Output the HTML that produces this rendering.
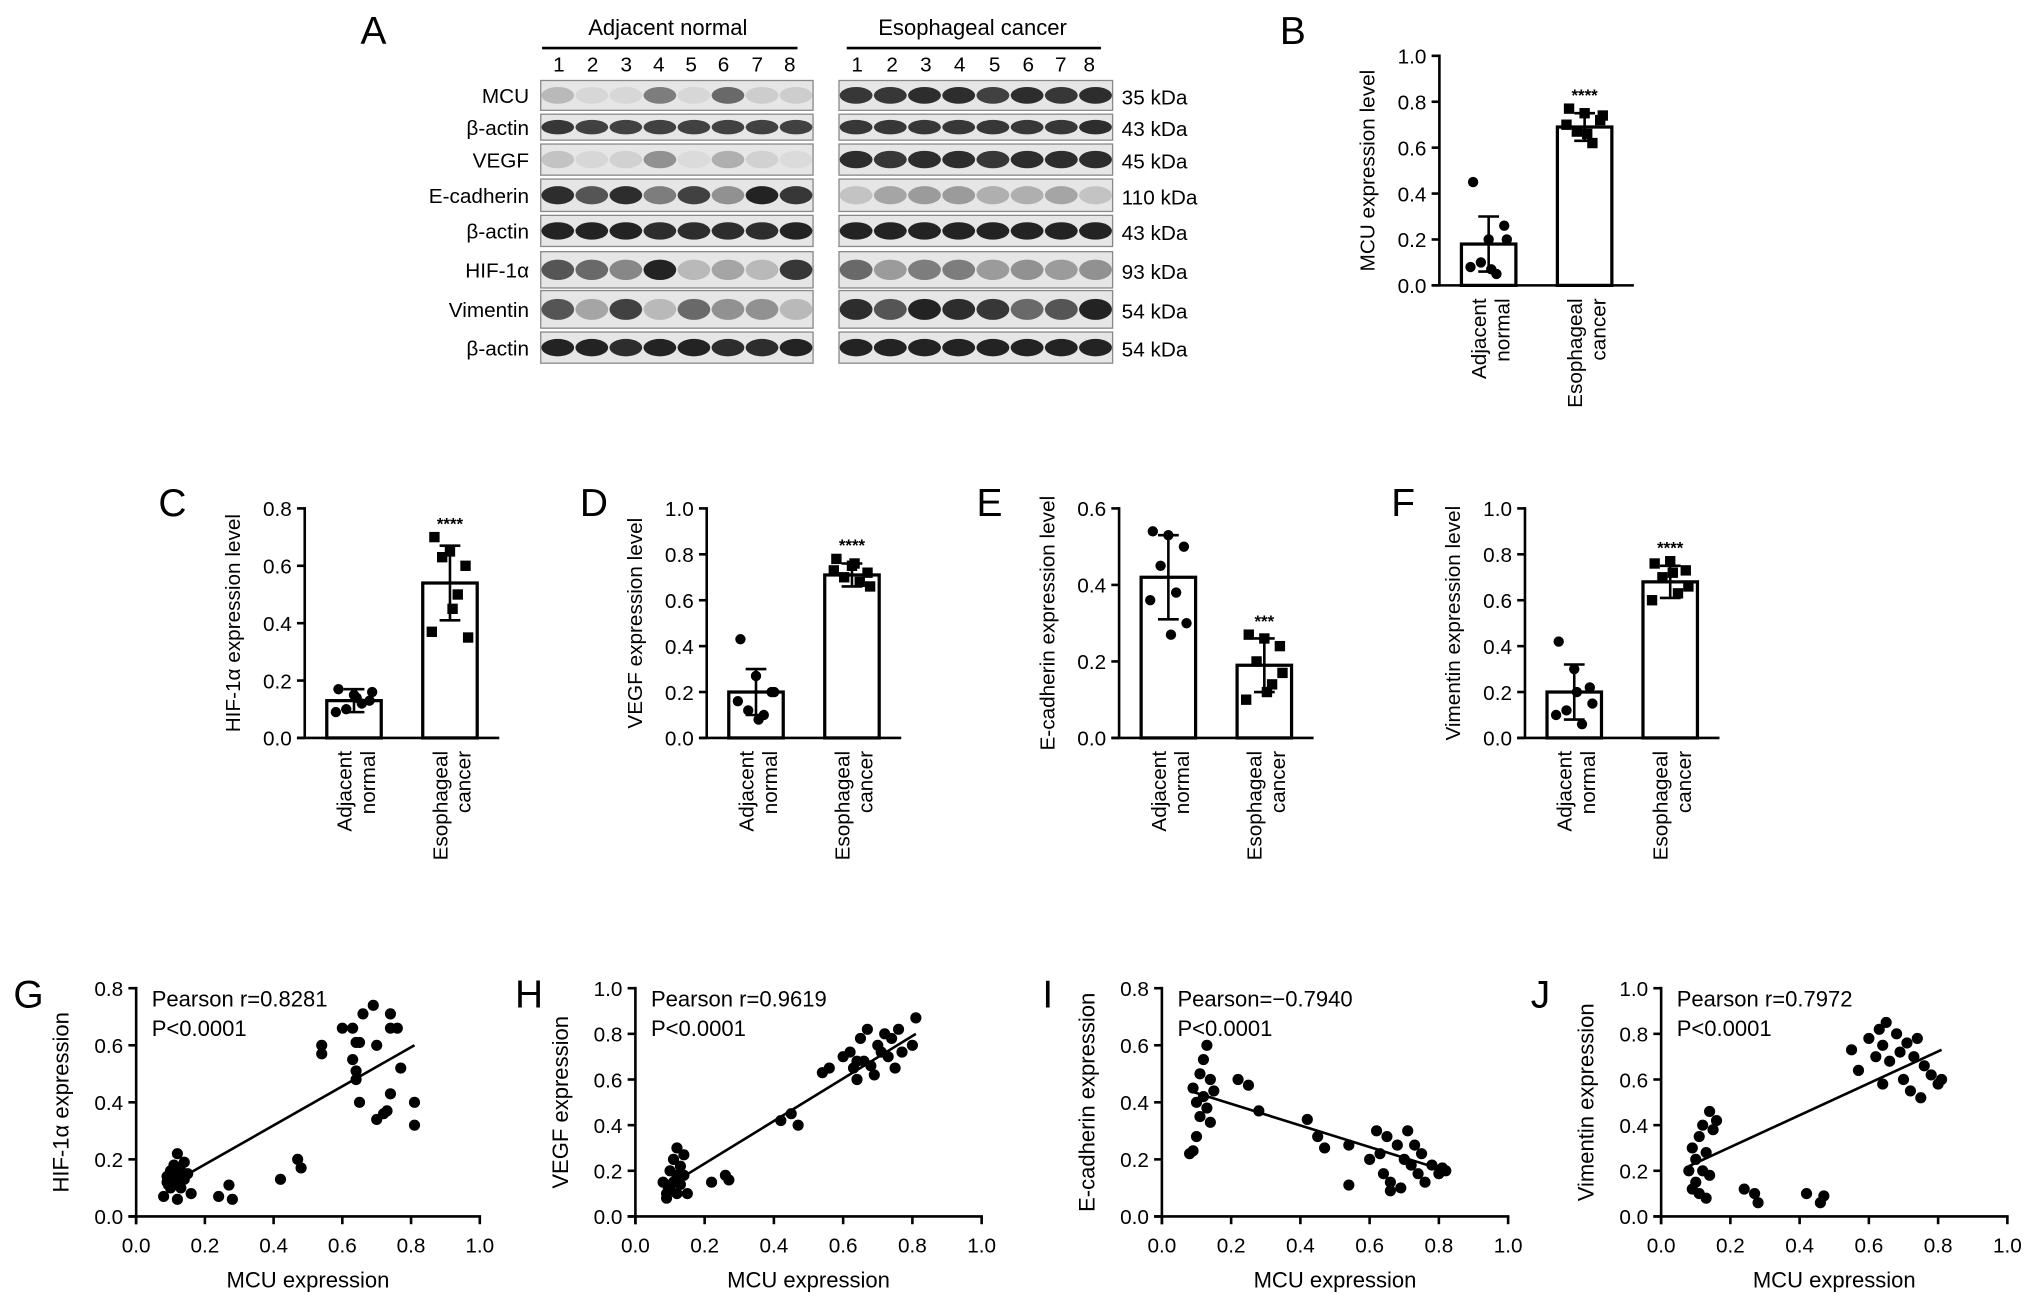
<!DOCTYPE html>
<html><head><meta charset="utf-8"><style>
html,body{margin:0;padding:0;background:#fff;}
svg{display:block;font-family:"Liberation Sans",sans-serif;}
</style></head><body>
<svg id="fig" width="2032" height="1306" viewBox="0 0 1567 1007" xmlns="http://www.w3.org/2000/svg"></svg>
<script>
// ---- Bar chart data ----
const barCats = ["Adjacent normal","Esophageal cancer"];
const mcuMeans = [0.18, 0.69];
const mcuSd = [0.12, 0.06];
const mcuAdjPts = [0.45,0.20,0.26,0.10,0.05,0.08,0.20,0.07];
const mcuEsoPts = [0.77,0.75,0.72,0.67,0.62,0.70,0.74,0.66];
const hifMeans = [0.13, 0.54];
const hifSd = [0.04, 0.13];
const hifAdjPts = [0.17,0.15,0.13,0.10,0.12,0.09,0.16,0.14];
const hifEsoPts = [0.70,0.65,0.60,0.63,0.50,0.37,0.35,0.45];
const vegfMeans = [0.20, 0.71];
const vegfSd = [0.10, 0.05];
const vegfAdjPts = [0.43,0.27,0.20,0.12,0.10,0.16,0.20,0.08];
const vegfEsoPts = [0.78,0.75,0.72,0.70,0.68,0.73,0.66,0.76];
const ecadMeans = [0.42, 0.19];
const ecadSd = [0.11, 0.07];
const ecadAdjPts = [0.54,0.53,0.50,0.45,0.38,0.36,0.30,0.27];
const ecadEsoPts = [0.27,0.26,0.24,0.20,0.14,0.10,0.17,0.12];
const vimMeans = [0.20, 0.68];
const vimSd = [0.12, 0.07];
const vimAdjPts = [0.42,0.30,0.22,0.12,0.06,0.10,0.15,0.20];
const vimEsoPts = [0.76,0.77,0.73,0.70,0.63,0.60,0.66,0.72];
const ticks08 = [0,0.2,0.4,0.6,0.8];
const ticks10 = [0,0.2,0.4,0.6,0.8,1.0];
const ticks06 = [0,0.2,0.4,0.6];
// ---- Scatter data ----
const gX = [0.08,0.09,0.10,0.10,0.11,0.11,0.12,0.12,0.13,0.13,0.14,0.14,0.15,0.16,0.09,0.12,0.24,0.27,0.28,0.42,0.47,0.48,0.54,0.54,0.60,0.63,0.63,0.64,0.65,0.64,0.64,0.65,0.66,0.69,0.70,0.70,0.72,0.73,0.74,0.74,0.74,0.76,0.77,0.81,0.81];
const gY = [0.07,0.12,0.16,0.10,0.14,0.18,0.22,0.12,0.16,0.10,0.19,0.13,0.15,0.08,0.14,0.06,0.07,0.11,0.06,0.13,0.20,0.17,0.57,0.60,0.66,0.66,0.55,0.61,0.61,0.51,0.48,0.40,0.71,0.74,0.60,0.34,0.36,0.37,0.43,0.71,0.66,0.66,0.52,0.40,0.32];
const hX = [0.08,0.09,0.10,0.10,0.11,0.11,0.12,0.12,0.13,0.13,0.14,0.14,0.15,0.09,0.12,0.22,0.26,0.27,0.42,0.45,0.47,0.54,0.56,0.60,0.62,0.63,0.64,0.65,0.66,0.67,0.68,0.70,0.71,0.72,0.73,0.74,0.75,0.76,0.77,0.80,0.81,0.64,0.69];
const hY = [0.15,0.10,0.20,0.12,0.25,0.15,0.30,0.10,0.22,0.14,0.27,0.18,0.10,0.08,0.18,0.15,0.18,0.16,0.42,0.45,0.40,0.63,0.65,0.70,0.72,0.65,0.60,0.78,0.68,0.82,0.66,0.75,0.72,0.80,0.70,0.78,0.65,0.82,0.72,0.75,0.87,0.68,0.62];
const iX = [0.08,0.09,0.10,0.10,0.11,0.11,0.12,0.12,0.13,0.13,0.14,0.14,0.15,0.09,0.22,0.25,0.28,0.42,0.45,0.47,0.54,0.54,0.60,0.62,0.63,0.64,0.65,0.66,0.68,0.69,0.70,0.71,0.72,0.74,0.75,0.76,0.78,0.80,0.81,0.82,0.66,0.73];
const iY = [0.22,0.45,0.40,0.28,0.50,0.35,0.55,0.42,0.60,0.38,0.48,0.33,0.44,0.23,0.48,0.46,0.37,0.34,0.28,0.24,0.11,0.25,0.20,0.30,0.22,0.15,0.28,0.12,0.25,0.10,0.20,0.30,0.18,0.15,0.22,0.12,0.18,0.15,0.17,0.16,0.09,0.25];
const jX = [0.08,0.09,0.10,0.10,0.11,0.11,0.12,0.12,0.13,0.13,0.14,0.14,0.15,0.16,0.09,0.24,0.27,0.28,0.42,0.46,0.47,0.55,0.57,0.60,0.62,0.63,0.64,0.65,0.66,0.68,0.69,0.70,0.71,0.72,0.73,0.74,0.75,0.76,0.78,0.80,0.81,0.64];
const jY = [0.20,0.30,0.15,0.25,0.35,0.10,0.40,0.20,0.28,0.08,0.46,0.18,0.38,0.42,0.12,0.12,0.10,0.06,0.10,0.06,0.09,0.73,0.64,0.78,0.70,0.82,0.75,0.85,0.68,0.80,0.72,0.60,0.76,0.55,0.70,0.78,0.52,0.66,0.62,0.58,0.60,0.58];
const lineG = [0.08,0.10,0.81,0.60];
const lineH = [0.08,0.12,0.81,0.80];
const lineI = [0.08,0.44,0.82,0.16];
const lineJ = [0.08,0.22,0.81,0.73];
// ---- Blot data (band intensities, 0..1) ----
const blotRows = ["MCU","β-actin","VEGF","E-cadherin","β-actin","HIF-1α","Vimentin","β-actin"];
const blotKda = ["35 kDa","43 kDa","45 kDa","110 kDa","43 kDa","93 kDa","54 kDa","54 kDa"];
const adjIntensity = [[0.2,0.05,0.05,0.5,0.05,0.6,0.1,0.1],[0.85,0.8,0.8,0.8,0.8,0.8,0.8,0.8],[0.15,0.05,0.08,0.4,0.03,0.25,0.08,0.03],[0.9,0.7,0.9,0.5,0.8,0.4,0.95,0.85],[0.95,0.95,0.95,0.9,0.9,0.9,0.9,0.95],[0.7,0.6,0.45,0.95,0.2,0.3,0.2,0.85],[0.7,0.3,0.8,0.2,0.6,0.4,0.4,0.2],[0.95,0.95,0.9,0.95,0.95,0.9,0.9,0.95]];
const esoIntensity = [[0.85,0.85,0.9,0.9,0.8,0.9,0.85,0.9],[0.85,0.85,0.85,0.85,0.85,0.85,0.85,0.9],[0.9,0.85,0.9,0.9,0.85,0.9,0.9,0.9],[0.15,0.3,0.35,0.35,0.25,0.25,0.3,0.15],[0.95,0.95,0.95,0.95,0.95,0.95,0.95,0.95],[0.6,0.35,0.5,0.5,0.35,0.4,0.35,0.4],[0.9,0.7,0.95,0.9,0.85,0.6,0.7,0.95],[0.95,0.95,0.95,0.95,0.95,0.95,0.95,0.95]];

const NS="http://www.w3.org/2000/svg";
const svg=document.getElementById('fig');
function el(tag,attrs,parent){const e=document.createElementNS(NS,tag);for(const k in attrs)e.setAttribute(k,attrs[k]);(parent||svg).appendChild(e);return e;}
function txt(s,attrs,parent){const e=el('text',attrs,parent);e.textContent=s;return e;}
function grp(name,parent){const g=el('g',{},parent);return g;}

// ---- Panel A: western blot ----
(function(){
  const g=grp('western-blot-panel');
  const L=txt('A',{x:288,y:34,'font-size':30,'text-anchor':'middle'},g);
  
  
  const hdr=[["Adjacent normal",515,418,615],["Esophageal cancer",750,653,849]];
  hdr.forEach(h=>{
    const t=txt(h[0],{x:h[1],y:27,'font-size':17,'text-anchor':'middle'},g);
    
    
    el('line',{x1:h[2],x2:h[3],y1:37,y2:37,stroke:'#000','stroke-width':2},g);
  });
  const rowsY=[[62,85],[88,108],[111,135],[138,163],[166,190],[194,222],[224,253],[256,280]];
  const panels=[[417,627,adjIntensity,[431,457,483,508,533,558,584,609]],[647,858,esoIntensity,[661,688,714,740,767,793,818,840]]];
  panels.forEach(p=>{
    p[3].forEach((x,i)=>{const n=txt(String(i+1),{x:x,y:55,'font-size':16,'text-anchor':'middle'},g);
      
      });
    rowsY.forEach((r,ri)=>{
      el('rect',{x:p[0],y:r[0],width:p[1]-p[0],height:r[1]-r[0],fill:'#e6e6e6',stroke:'#888','stroke-width':1},g);
      const w=(p[1]-p[0])/8;
      p[2][ri].forEach((v,li)=>{
        const c=Math.round(225-200*v);
        const b=el('ellipse',{cx:p[0]+w*(li+0.5),cy:(r[0]+r[1])/2,rx:w*0.48,ry:(r[1]-r[0])*0.28,fill:`rgb(${c},${c},${c})`},g);
        
        
      });
    });
  });
  rowsY.forEach((r,ri)=>{
    const t=txt(blotRows[ri],{x:408,y:(r[0]+r[1])/2+6,'font-size':16,'text-anchor':'end'},g);
    
    
    const k=txt(blotKda[ri],{x:865,y:(r[0]+r[1])/2+7,'font-size':16},g);
    
    
  });
})();

// ---- Bar charts ----
function barChart(o){
  const g=grp(o.name);
  const sy=v=>o.y0-(v/o.max)*(o.y0-o.ytop);
  const L=txt(o.letter,{x:o.lx,y:o.ly,'font-size':30,'text-anchor':'middle'},g);
  
  
  el('line',{x1:o.ax,x2:o.ax,y1:o.ytop-1,y2:o.y0,stroke:'#000','stroke-width':2},g);
  el('line',{x1:o.ax-6,x2:o.ax+150,y1:o.y0,y2:o.y0,stroke:'#000','stroke-width':2},g);
  o.ticks.forEach(t=>{
    el('line',{x1:o.ax-6,x2:o.ax,y1:sy(t),y2:sy(t),stroke:'#000','stroke-width':2},g);
    const tl=txt(t.toFixed(1),{x:o.ax-10,y:sy(t)+6,'font-size':16,'text-anchor':'end'},g);
    
    
  });
  const yt=txt(o.title,{x:0,y:0,'font-size':16,'text-anchor':'middle',transform:`translate(${o.ax-50},${(o.y0+o.ytop)/2}) rotate(-90)`},g);
  
  
  const centers=[o.ax+38,o.ax+112];
  const offs=[-12,0,12,-6,6,-14,14,2];
  [o.adj,o.eso].forEach((pts,i)=>{
    const cx=centers[i];
    el('line',{x1:cx,x2:cx,y1:o.y0,y2:o.y0,stroke:'#000'},g);
    const bar=el('rect',{x:cx-21,y:sy(o.means[i]),width:42,height:o.y0-sy(o.means[i]),fill:'#fff',stroke:'#000','stroke-width':2.5},g);
    
    
    const hi=sy(o.means[i]+o.sd[i]),lo=sy(Math.max(0,o.means[i]-o.sd[i]));
    el('line',{x1:cx,x2:cx,y1:hi,y2:lo,stroke:'#000','stroke-width':2},g);
    el('line',{x1:cx-8,x2:cx+8,y1:hi,y2:hi,stroke:'#000','stroke-width':2},g);
    el('line',{x1:cx-8,x2:cx+8,y1:lo,y2:lo,stroke:'#000','stroke-width':2},g);
    pts.forEach((v,k)=>{
      const m = i===0 ? el('circle',{cx:cx+offs[k],cy:sy(v),r:4,fill:'#000'},g)
                      : el('rect',{x:cx+offs[k]-4,y:sy(v)-4,width:8,height:8,fill:'#000'},g);
      
      
    });
    const words=barCats[i].split(' ');
    const l1=txt(words[0],{x:0,y:0,'font-size':16,'text-anchor':'end',transform:`translate(${cx-2},${o.y0+10}) rotate(-90)`},g);
    
    
    const l2=txt(words[1],{x:0,y:0,'font-size':16,'text-anchor':'end',transform:`translate(${cx+16},${o.y0+10}) rotate(-90)`},g);
    
    
  });
  const st=txt(o.stars,{x:centers[1],y:sy(Math.max(...o.eso))-6,'font-size':13,'text-anchor':'middle','font-weight':'bold'},g);
  
  
}
barChart({name:'mcu-bar-chart',letter:'B',lx:997,ly:34,ax:1110,y0:220,ytop:43,max:1.0,ticks:ticks10,title:'MCU expression level',means:mcuMeans,sd:mcuSd,adj:mcuAdjPts,eso:mcuEsoPts,stars:'****'});
barChart({name:'hif-bar-chart',letter:'C',lx:133,ly:398,ax:235,y0:569,ytop:392,max:0.8,ticks:ticks08,title:'HIF-1α expression level',means:hifMeans,sd:hifSd,adj:hifAdjPts,eso:hifEsoPts,stars:'****'});
barChart({name:'vegf-bar-chart',letter:'D',lx:458,ly:398,ax:545,y0:569,ytop:392,max:1.0,ticks:ticks10,title:'VEGF expression level',means:vegfMeans,sd:vegfSd,adj:vegfAdjPts,eso:vegfEsoPts,stars:'****'});
barChart({name:'ecadherin-bar-chart',letter:'E',lx:763,ly:398,ax:863,y0:569,ytop:392,max:0.6,ticks:ticks06,title:'E-cadherin expression level',means:ecadMeans,sd:ecadSd,adj:ecadAdjPts,eso:ecadEsoPts,stars:'***'});
barChart({name:'vimentin-bar-chart',letter:'F',lx:1082,ly:398,ax:1176,y0:569,ytop:392,max:1.0,ticks:ticks10,title:'Vimentin expression level',means:vimMeans,sd:vimSd,adj:vimAdjPts,eso:vimEsoPts,stars:'****'});

// ---- Scatter plots ----
function scatter(o){
  const g=grp(o.name);
  const sx=v=>o.x0+v*(o.x1-o.x0);
  const sy=v=>o.y0-(v/o.ymax)*(o.y0-o.ytop);
  const L=txt(o.letter,{x:o.lx,y:777,'font-size':30,'text-anchor':'middle'},g);
  
  
  el('line',{x1:o.x0,x2:o.x0,y1:o.ytop-1,y2:o.y0+6,stroke:'#000','stroke-width':2},g);
  el('line',{x1:o.x0-6,x2:o.x1+1,y1:o.y0,y2:o.y0,stroke:'#000','stroke-width':2},g);
  o.yticks.forEach(t=>{
    el('line',{x1:o.x0-6,x2:o.x0,y1:sy(t),y2:sy(t),stroke:'#000','stroke-width':2},g);
    const tl=txt(t.toFixed(1),{x:o.x0-10,y:sy(t)+6,'font-size':16,'text-anchor':'end'},g);
    
    
  });
  ticks10.forEach(t=>{
    el('line',{x1:sx(t),x2:sx(t),y1:o.y0,y2:o.y0+6,stroke:'#000','stroke-width':2},g);
    const tl=txt(t.toFixed(1),{x:sx(t),y:o.y0+28,'font-size':16,'text-anchor':'middle'},g);
    
    
  });
  const xt=txt('MCU expression',{x:(o.x0+o.x1)/2,y:o.y0+55,'font-size':17,'text-anchor':'middle'},g);
  
  
  const yt=txt(o.ytitle,{x:0,y:0,'font-size':17,'text-anchor':'middle',transform:`translate(${o.x0-52},${(o.y0+o.ytop)/2}) rotate(-90)`},g);
  
  
  o.xs.forEach((x,i)=>{
    const c=el('circle',{cx:sx(x),cy:sy(o.ys[i]),r:4.3,fill:'#000'},g);
    
    
  });
  const ln=el('line',{x1:sx(o.line[0]),y1:sy(o.line[1]),x2:sx(o.line[2]),y2:sy(o.line[3]),stroke:'#000','stroke-width':2},g);
  
  
  const s1=txt(o.stat,{x:o.x0+12,y:o.ytop+14,'font-size':17},g);
  
  
  const s2=txt('P<0.0001',{x:o.x0+12,y:o.ytop+37,'font-size':17},g);
  
  
}
scatter({name:'hif-scatter',letter:'G',lx:22,x0:105,x1:370,y0:938,ytop:762,ymax:0.8,yticks:ticks08,ytitle:'HIF-1α expression',xs:gX,ys:gY,line:lineG,stat:'Pearson r=0.8281'});
scatter({name:'vegf-scatter',letter:'H',lx:408,x0:490,x1:757,y0:938,ytop:762,ymax:1.0,yticks:ticks10,ytitle:'VEGF expression',xs:hX,ys:hY,line:lineH,stat:'Pearson r=0.9619'});
scatter({name:'ecadherin-scatter',letter:'I',lx:808,x0:896,x1:1163,y0:938,ytop:762,ymax:0.8,yticks:ticks08,ytitle:'E-cadherin expression',xs:iX,ys:iY,line:lineI,stat:'Pearson=−0.7940'});
scatter({name:'vimentin-scatter',letter:'J',lx:1188,x0:1281,x1:1548,y0:938,ytop:762,ymax:1.0,yticks:ticks10,ytitle:'Vimentin expression',xs:jX,ys:jY,line:lineJ,stat:'Pearson r=0.7972'});
</script>
</body></html>
